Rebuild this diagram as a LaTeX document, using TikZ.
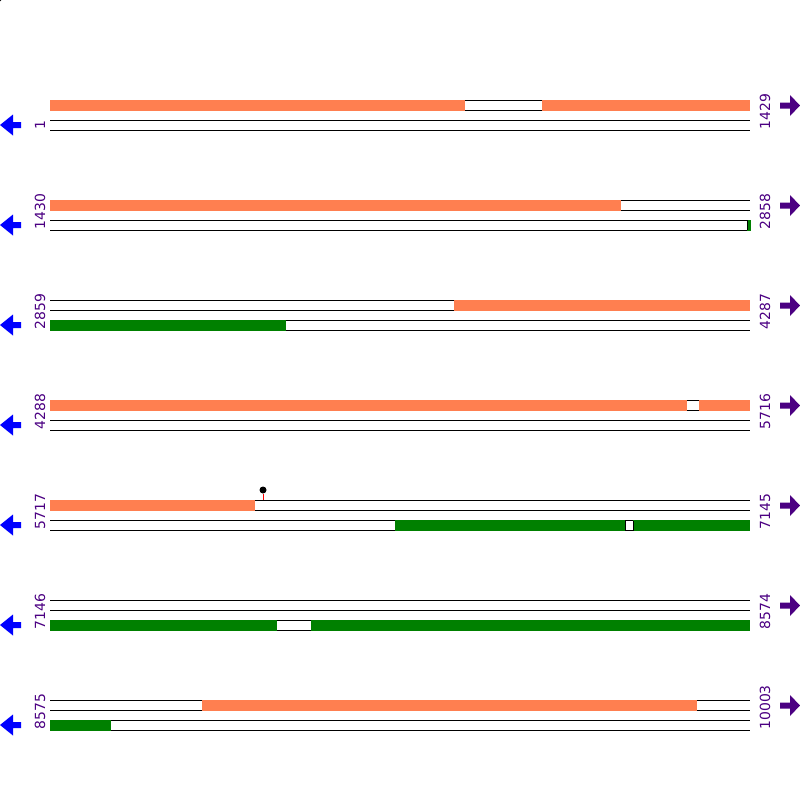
\documentclass[tikz,border=0pt]{standalone}
\usepackage{fontspec}
\setmainfont{DejaVu Sans}
\definecolor{seqorange}{HTML}{FF7F50}
\definecolor{seqgreen}{HTML}{008000}
\definecolor{seqpurple}{HTML}{4B0082}
\begin{document}
\begin{tikzpicture}[x=1bp, y=1bp, line width=1bp,
  poslabel/.style={rotate=90, anchor=base west, inner sep=0pt, text=seqpurple, font=\fontsize{14}{14}\selectfont}]
\useasboundingbox (0,0) rectangle (800,-800);
\fill (0,0) circle (1.5);
\foreach \i/\lft/\rgt in {1/1/1429, 2/1430/2858, 3/2859/4287, 4/4288/5716, 5/5717/7145, 6/7146/8574, 7/8575/10003}{
  \pgfmathsetmacro\Y{-100*\i}
  \draw (50,\Y) -- (750,\Y) (50,\Y-10) -- (750,\Y-10);
  \draw (50,\Y-20) -- (750,\Y-20) (50,\Y-30) -- (750,\Y-30);
  \node[poslabel] (l\i) at (45,\Y-30) {\lft};
  \node[poslabel] (r\i) at (770,\Y-30) {\rgt};
  \fill[blue] (0,\Y-25) -- (13,\Y-14.5) -- (13,\Y-22) -- (21,\Y-22) -- (21,\Y-28) -- (13,\Y-28) -- (13,\Y-35.5) -- cycle;
  \fill[seqpurple] (800,\Y-5.5) -- (790,\Y+5) -- (790,\Y-2.5) -- (780,\Y-2.5) -- (780,\Y-8.5) -- (790,\Y-8.5) -- (790,\Y-16) -- cycle;
}
\foreach \i/\a/\b in {1/50/465, 1/542/750, 2/50/621, 3/454/750, 4/50/687, 4/699/750, 5/50/255, 7/202/697}
  \fill[seqorange] (\a,-100*\i+0.5) rectangle (\b,-100*\i-10.5);
\foreach \i/\a/\b in {2/747/750.5, 3/50/286, 5/395/625, 5/633/750, 6/50/277, 6/311/750, 7/50/111}
  \fill[seqgreen] (\a,-100*\i-19.5) rectangle (\b,-100*\i-30.5);
\draw (747,-220) -- (747,-230);
\draw (625,-521) -- (625,-530) -- (633,-530) -- (633,-521);
\node[circle, fill, inner sep=0pt, minimum size=7bp] (snp) at (263,-490) {};
\draw[red] (snp) -- (263,-500);
\end{tikzpicture}
\end{document}
